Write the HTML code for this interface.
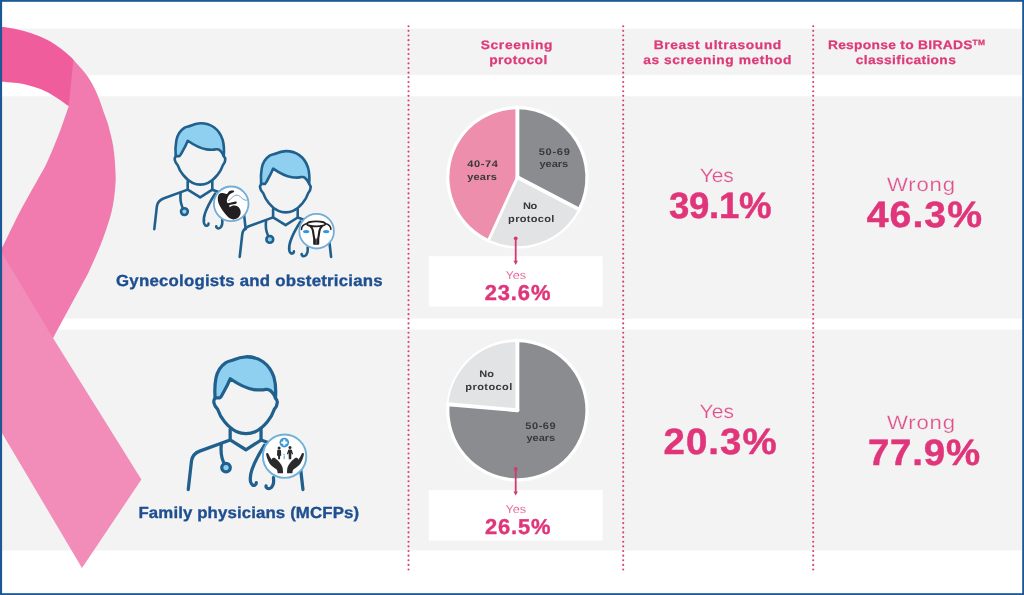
<!DOCTYPE html>
<html>
<head>
<meta charset="utf-8">
<title>Breast cancer screening infographic</title>
<style>
html,body{margin:0;padding:0;background:#fff;}
body{width:1024px;height:595px;overflow:hidden;position:relative;font-family:"Liberation Sans",sans-serif;}
svg{position:absolute;left:0;top:0;display:block;}
text{font-family:"Liberation Sans",sans-serif;text-rendering:geometricPrecision;}
svg{will-change:transform;}
.hd{font-weight:bold;font-size:12.3px;fill:#dd3a78;stroke:#dd3a78;stroke-width:0.25px;}
.lbl{font-weight:bold;font-size:16px;fill:#1e4f90;stroke:#1e4f90;stroke-width:0.35px;}
.big{font-weight:bold;font-size:36.6px;fill:#e0357a;stroke:#e0357a;stroke-width:0.5px;stroke-linejoin:round;}
.sub{font-size:19.4px;fill:#e0508a;stroke:#f3f3f3;stroke-width:0.22px;}
.med{font-weight:bold;font-size:21.5px;fill:#e0357a;stroke:#e0357a;stroke-width:0.4px;}
.sm{font-size:11.5px;fill:#e0508a;stroke:#fff;stroke-width:0.12px;}
.pt{font-weight:bold;font-size:9.6px;fill:#39393b;}
</style>
</head>
<body>
<svg width="1024" height="595" viewBox="0 0 1024 595">
<defs>
<g id="doc" fill="none" stroke="#1f608d" stroke-width="2.6" stroke-linecap="round" stroke-linejoin="round">
<path d="M261.1 183.9 C260.7 178.5 260.9 172.5 261.8 168 C262.8 163 265.5 158.5 269.7 155.7 C272 154.3 274 154.4 276 153.5 C279 152.1 282 151.2 285.7 151.1 C290 151 295 152 299.3 155.1 C303 157.8 306.2 162 308 167.5 C309.3 172 309.6 178.5 309.2 183.9 C308.5 182 307 179.5 305.2 178.1 C304 177.1 303 176.8 301.5 177.1 C299 177.7 295.5 177.7 291.9 177.2 C286 176.3 279.5 173 273.2 168.6 C271.8 172 269.5 176.5 267.5 180 C266.3 182 265.5 183.9 264.8 183.9 Z" fill="#8fd0f1"/>
<path d="M261.1 184.1 C260.2 185.1 259.9 186.5 260.2 187.9 C260.5 189.6 261.5 191.3 263.2 193.1 C264.3 196.3 266 199.8 268.5 202.7 C271 205.8 274.5 209.1 278.4 210.9 C280.8 212 283.2 212.4 285.7 212.4 C288.2 212.4 290.6 212 293 210.9 C296.9 209.1 300.4 205.8 302.9 202.7 C305.4 199.8 307.1 196.3 308.2 193.1 C309.9 191.3 310.5 189.6 310.6 187.9 C310.8 186.5 310.3 185.1 309.2 184.1"/>
<path d="M273.1 209 L273.1 217.4 L285.6 225.2 L297.7 217.5 L297.7 209"/>
<path d="M273.1 217.4 L248.8 226.3 C245 227.8 242.9 230 242.3 234 L239.7 256.9"/>
<path d="M297.7 217.5 L322 226.3 C325.8 227.8 327.9 230 328.5 234 L331.1 256.9"/>
<path d="M266 221 C265.5 226 266 231 267.8 235"/>
<circle cx="269.8" cy="239.4" r="3.4" fill="#8fd0f1"/>
<path d="M300.5 221.5 C297 227 292.5 235 290.5 241 C289.3 244.5 288.8 248 289.4 250.8 C290 253 291.5 254 292.8 253.4 C293.6 253 294 252.2 293.9 251.4"/>
<path d="M307.6 247.5 C308 250.5 307.6 253.5 306 255.2 C304.6 256.6 302.8 256.6 301.9 255.2 C301.6 254.8 301.6 254.4 301.7 254"/>
</g>
<g id="badge">
<circle cx="0" cy="0" r="17.3" fill="#fff" stroke="#74add6" stroke-width="1.8"/>
</g>
<g id="fetus">
<path d="M-3 -3.2 C0 -4 2 -9.2 6 -8.6 C10 -8 11 -3.2 15.8 -3.6" fill="none" stroke="#3b7dae" stroke-width="0.7"/>
<path d="M-12.2 -9.6 C-11 -11 -8 -11.4 -6.3 -10.2 C-5 -9.4 -4 -10 -3.3 -10.9 C-2.6 -12 -2 -12.6 -0.8 -13 C0.4 -13.4 1.6 -13.6 2.4 -13.2 C3.2 -12.8 3.2 -11.8 2.4 -11.5 C1.2 -11.2 0 -10.6 -1 -9.8 C-2.2 -8.8 -3.2 -7.4 -3.6 -5.9 C-4.2 -4.8 -4.5 -3.6 -4.4 -2.6 C-4.3 -1.8 -3.8 -1 -3.2 -0.6 L4.1 -2.2 C5.2 -2.4 5.9 -1.6 5.4 -0.8 C5 0 4.4 0.1 3.6 0.2 L-1.6 1.3 C-2 1.8 -2 2.8 -1.4 3.4 C0.4 1.4 4.4 1.2 6.6 2.6 C9.2 4.4 10.2 8 9 11 C7.8 14 4.8 15.8 2 15.6 C0 15.5 -2 14.4 -3.4 13 C-6.4 10 -9.6 5.8 -11.6 1.8 C-13.2 -1.4 -14.4 -6.4 -12.2 -9.6 Z" fill="#231f20"/>
</g>
<g id="uterus" fill="none" stroke="#231f20" stroke-linecap="round" stroke-linejoin="round">
<ellipse cx="-0.4" cy="-7.3" rx="9.2" ry="2.5" stroke-width="1.7"/>
<path d="M-9.4 -7.8 C-12.5 -7 -15.2 -4.6 -15.1 -1.6" stroke-width="1.5"/>
<path d="M8.6 -7.8 C11.7 -7 14.4 -4.6 14.3 -1.6" stroke-width="1.5"/>
<path d="M-6 -4.6 C-4.2 -3.4 -3.6 -1 -3.3 2 C-3 4.5 -2.4 6 -2.4 8 L-2.4 12.6 L1.6 12.6 L1.6 8 C1.6 6 2.2 4.5 2.5 2 C2.8 -1 3.4 -3.4 5.2 -4.6" stroke-width="2.1"/>
<path d="M-2 8 L-2 12.6 L1.2 12.6 L1.2 8 Z" fill="#231f20" stroke-width="0.5"/>
<path d="M-0.4 7.5 L-0.4 12.4" stroke="#8a8a8a" stroke-width="0.7"/>
<ellipse cx="-10.4" cy="0.4" rx="3.2" ry="1.7" fill="#2f95dc" stroke="none"/>
<ellipse cx="9.6" cy="0.4" rx="3.2" ry="1.7" fill="#2f95dc" stroke="none"/>
</g>
<g id="family">
<circle cx="-0.5" cy="-13.6" r="4.8" fill="#3b96d6"/>
<path d="M-0.5 -16.6 V-10.6 M-3.5 -13.6 H2.5" stroke="#fff" stroke-width="2.1" fill="none"/>
<g fill="#2b2b2d">
<circle cx="-5.7" cy="-8.3" r="1.5"/>
<path d="M-7.6 -5.8 C-7.6 -6.6 -3.8 -6.6 -3.8 -5.8 L-3.6 -0.5 L-4.6 -0.5 L-4.8 3 L-6.6 3 L-6.8 -0.5 L-7.8 -0.5 Z"/>
<circle cx="5.2" cy="-8.6" r="1.5"/>
<path d="M3.4 -6.2 C3.4 -7 7 -7 7 -6.2 L8.3 -2.2 L7.2 -1.8 L6.6 -4 L6.4 3 L4 3 L3.8 -4 L3.2 -1.8 L2.1 -2.2 Z"/>
<path id="hand" d="M-18.7 -2 C-18.6 -3.3 -16.9 -3.5 -16.3 -2.3 C-15.5 -0.4 -14.4 1.8 -13 3.6 C-13 2.4 -12.2 1.5 -11.2 1.5 C-10 1.5 -9.2 2.2 -8.4 3 C-6 5 -3.6 7.6 -2.4 10.8 C-1.8 12.6 -1.8 14.8 -1.8 17 L-7.2 17 C-7.2 15.4 -7.4 14 -8.4 13 C-11 11.4 -13.8 9.6 -15.4 7 C-17 4.2 -18.2 1 -18.7 -2 Z"/>
<path transform="translate(0.46 0) scale(-1 1)" d="M-18.7 -2 C-18.6 -3.3 -16.9 -3.5 -16.3 -2.3 C-15.5 -0.4 -14.4 1.8 -13 3.6 C-13 2.4 -12.2 1.5 -11.2 1.5 C-10 1.5 -9.2 2.2 -8.4 3 C-6 5 -3.6 7.6 -2.4 10.8 C-1.8 12.6 -1.8 14.8 -1.8 17 L-7.2 17 C-7.2 15.4 -7.4 14 -8.4 13 C-11 11.4 -13.8 9.6 -15.4 7 C-17 4.2 -18.2 1 -18.7 -2 Z"/>
</g>
<circle cx="-0.6" cy="-1.6" r="0.9" fill="#7fbfe6"/>
<path d="M-1.4 -0.4 H0.2 L0 3 H-1.2 Z" fill="#7fbfe6"/>
</g>
</defs>
<!-- background -->
<rect x="0" y="0" width="1024" height="595" fill="#ffffff"/>
<!-- gray bands -->
<rect x="2" y="28.6" width="1020" height="46.6" fill="#f3f3f3"/>
<rect x="2" y="96.3" width="1020" height="222.3" fill="#f3f3f3"/>
<rect x="2" y="329.6" width="1020" height="220.9" fill="#f3f3f3"/>
<!-- RIBBON -->
<g id="ribbon">
<path d="M2 249 L53.5 336.5 L53 338 L141.4 479.4 L82 568 L2 433 Z" fill="#f18db8"/>
<path d="M73.4 59.8 C75.8 62.5 83.6 70.7 87.5 76.2 C91.4 81.8 94.2 87.3 96.9 93.4 C99.7 99.5 102.1 107.6 104.0 113.0 C105.9 118.4 107.0 120.3 108.5 126.0 C110.0 131.7 112.1 139.5 113.3 146.9 C114.5 154.3 115.1 163.8 115.4 170.3 C115.7 176.8 115.9 179.2 115.3 186.0 C114.7 192.8 114.0 201.8 111.7 211.2 C109.4 220.7 105.4 232.2 101.5 242.5 C97.6 252.8 90.5 267.9 88.3 273.0 L53 338 L2 253 L2 247.5 C2.5 246.7 1.7 248.6 4.7 242.5 C7.8 236.4 14.8 221.4 20.3 211.0 C25.8 200.6 33.0 188.1 37.5 180.0 C42.0 171.9 43.2 170.7 47.0 162.5 C50.8 154.3 56.4 140.4 60.0 131.0 C63.6 121.6 67.3 110.2 68.8 106.0 L66 103.6 L71 59 Z" fill="#f17aae"/>
<path d="M2 26.8 C3.8 27.1 9.2 27.9 13.0 28.6 C16.8 29.3 20.9 30.1 25.0 31.2 C29.1 32.4 33.3 33.7 37.5 35.4 C41.7 37.1 46.2 39.1 50.0 41.2 C53.8 43.4 56.7 45.5 60.0 48.0 C63.3 50.5 67.8 54.3 70.0 56.2 C72.2 58.2 72.8 59.2 73.4 59.8 L68.75 106 C65.1 103.7 54.5 95.6 46.9 91.9 C39.3 88.2 30.9 85.7 23.4 84.0 C15.9 82.3 5.6 82.1 2.0 81.7 Z" fill="#ef5d9c"/>
</g>
<!-- DOTTED LINES -->
<g id="dots" stroke="#d6407a" stroke-width="2.1" stroke-linecap="round" stroke-dasharray="0.01 4.634" fill="none">
<line x1="408.5" y1="26.2" x2="408.5" y2="570"/>
<line x1="623.2" y1="26.2" x2="623.2" y2="570"/>
<line x1="813.2" y1="26.2" x2="813.2" y2="570"/>
</g>
<!-- HEADERS -->
<g id="headers">
</g>
<!-- PIES -->
<g id="pies">
<rect x="428.8" y="256.2" width="173.8" height="50.4" fill="#fff"/>
<rect x="428.8" y="490.2" width="173.8" height="50.3" fill="#fff"/>
<circle cx="517.4" cy="177.3" r="71.2" fill="#fff"/>
<path d="M517.40 177.30 L517.40 109.30 A68 68 0 0 1 577.72 208.70 Z" fill="#8a8c8f"/>
<path transform="translate(0.4 0.9)" d="M517.40 177.30 L577.72 208.70 A68 68 0 0 1 489.09 239.13 Z" fill="#e2e3e5"/>
<path d="M517.40 177.30 L489.09 239.13 A68 68 0 0 1 517.40 109.30 Z" fill="#ec8eac"/>
<line x1="517.40" y1="177.30" x2="517.40" y2="107.30" stroke="#fff" stroke-width="3.9" stroke-linecap="round"/>
<line x1="517.40" y1="177.30" x2="579.49" y2="209.62" stroke="#fff" stroke-width="3.9" stroke-linecap="round"/>
<line x1="517.40" y1="177.30" x2="488.26" y2="240.95" stroke="#fff" stroke-width="2.9" stroke-linecap="round"/>
<circle cx="517.4" cy="410.3" r="71.2" fill="#fff"/>
<path d="M517.40 410.30 L517.40 342.30 A68 68 0 1 1 449.66 404.37 Z" fill="#8a8c8f"/>
<path transform="translate(-1.2 -0.4)" d="M517.40 410.30 L449.66 404.37 A68 68 0 0 1 517.40 342.30 Z" fill="#e2e3e5"/>
<line x1="517.40" y1="410.30" x2="517.40" y2="340.30" stroke="#fff" stroke-width="3.9" stroke-linecap="round"/>
<line x1="517.40" y1="410.30" x2="447.67" y2="404.20" stroke="#fff" stroke-width="3.9" stroke-linecap="round"/>
<line x1="515.7" y1="238.3" x2="515.7" y2="262" stroke="#d23871" stroke-width="1.8"/>
<circle cx="515.7" cy="238.3" r="1.9" fill="#d23871"/>
<path d="M513.5 260.8 L517.9 260.8 L515.7 265 Z" fill="#d23871"/>
<line x1="515.7" y1="469" x2="515.7" y2="492.6" stroke="#d23871" stroke-width="1.8"/>
<circle cx="515.7" cy="469" r="1.9" fill="#d23871"/>
<path d="M513.5 491.4 L517.9 491.4 L515.7 495.6 Z" fill="#d23871"/>
</g>
<!-- DOCTORS -->
<g id="doctors">
<g transform="translate(-85.4 -27.8)">
<use href="#doc"/>
<use href="#badge" x="316.6" y="231.6"/>
<use href="#fetus" x="316.6" y="231.6"/>
</g>
<g>
<use href="#doc"/>
<use href="#badge" x="316.6" y="231.2"/>
<use href="#uterus" x="316.6" y="231.2"/>
</g>
<g transform="translate(245.6 449) scale(1.255) translate(-285.4 -224.6)">
<use href="#doc"/>
</g>
<circle cx="284.6" cy="456.2" r="21.7" fill="#fff" stroke="#6fb1d9" stroke-width="1.9"/>
<use href="#family" x="284.8" y="456.2"/>
</g>
<!-- LABELS -->
<!-- STATS -->
<g id="stats">
</g>
<g id="alltext" text-anchor="middle">
<text class="hd" transform="translate(516.94 48.80) scale(1.120 1)" style="letter-spacing:0.583px">Screening</text>
<text class="hd" transform="translate(518.45 63.50) scale(1.120 1)" style="letter-spacing:0.390px">protocol</text>
<text class="hd" transform="translate(717.76 48.80) scale(1.120 1)" style="letter-spacing:0.542px">Breast ultrasound</text>
<text class="hd" transform="translate(717.57 63.70) scale(1.120 1)" style="letter-spacing:0.509px">as screening method</text>
<text class="hd" transform="translate(906.62 48.80) scale(1.120 1)" style="letter-spacing:0.271px">Response to BIRADS<tspan font-size="7.5px" dy="-4">TM</tspan></text>
<text class="hd" transform="translate(906.00 63.70) scale(1.120 1)" style="letter-spacing:0.321px">classifications</text>
<text class="lbl" transform="translate(249.45 285.80) scale(1.050 1)" style="letter-spacing:0.223px">Gynecologists and obstetricians</text>
<text class="lbl" transform="translate(248.80 517.90) scale(1.050 1)" style="letter-spacing:0.121px">Family physicians (MCFPs)</text>
<text class="sub" transform="translate(716.75 181.80) scale(1.080 1)" style="letter-spacing:0.000px">Yes</text>
<text class="big" transform="translate(720.12 217.60) scale(1.000 1)" style="letter-spacing:-0.270px">39.1%</text>
<text class="sub" transform="translate(921.40 190.50) scale(1.140 1)" style="letter-spacing:0.711px">Wrong</text>
<text class="big" transform="translate(924.90 227.20) scale(1.070 1)" style="letter-spacing:1.009px">46.3%</text>
<text class="sub" transform="translate(716.81 418.10) scale(1.080 1)" style="letter-spacing:0.083px">Yes</text>
<text class="big" transform="translate(720.64 454.00) scale(1.050 1)" style="letter-spacing:1.029px">20.3%</text>
<text class="sub" transform="translate(921.40 429.40) scale(1.140 1)" style="letter-spacing:0.711px">Wrong</text>
<text class="big" transform="translate(924.38 465.30) scale(1.050 1)" style="letter-spacing:0.771px">77.9%</text>
<text class="sm" transform="translate(515.75 278.70) scale(1.100 1)" style="letter-spacing:0.000px">Yes</text>
<text class="med" transform="translate(518.01 300.20) scale(1.020 1)" style="letter-spacing:0.882px">23.6%</text>
<text class="sm" transform="translate(515.75 512.60) scale(1.100 1)" style="letter-spacing:0.000px">Yes</text>
<text class="med" transform="translate(518.13 533.50) scale(1.020 1)" style="letter-spacing:0.794px">26.5%</text>
<text class="pt" transform="translate(482.88 167.20) scale(1.150 1)" style="letter-spacing:0.548px">40-74</text>
<text class="pt" transform="translate(482.12 179.70) scale(1.150 1)" style="letter-spacing:0.157px">years</text>
<text class="pt" transform="translate(554.64 154.90) scale(1.150 1)" style="letter-spacing:0.626px">50-69</text>
<text class="pt" transform="translate(553.81 167.00) scale(1.150 1)" style="letter-spacing:-0.039px">years</text>
<text class="pt" transform="translate(529.88 209.40) scale(1.150 1)" style="letter-spacing:-0.313px">No</text>
<text class="pt" transform="translate(531.38 221.80) scale(1.150 1)" style="letter-spacing:0.268px">protocol</text>
<text class="pt" transform="translate(486.61 376.80) scale(1.150 1)" style="letter-spacing:0.000px">No</text>
<text class="pt" transform="translate(489.01 390.00) scale(1.150 1)" style="letter-spacing:0.358px">protocol</text>
<text class="pt" transform="translate(540.75 428.80) scale(1.150 1)" style="letter-spacing:0.470px">50-69</text>
<text class="pt" transform="translate(540.81 440.60) scale(1.150 1)" style="letter-spacing:-0.039px">years</text>
</g>
<!-- BORDER -->
<g fill="#1a5896">
<rect x="0" y="0" width="1024" height="1.8"/>
<rect x="0" y="0" width="2.1" height="595"/>
<rect x="1022.2" y="0" width="1.8" height="595"/>
<rect x="0" y="593.2" width="1024" height="1.8"/>
</g>
</svg>
</body>
</html>
